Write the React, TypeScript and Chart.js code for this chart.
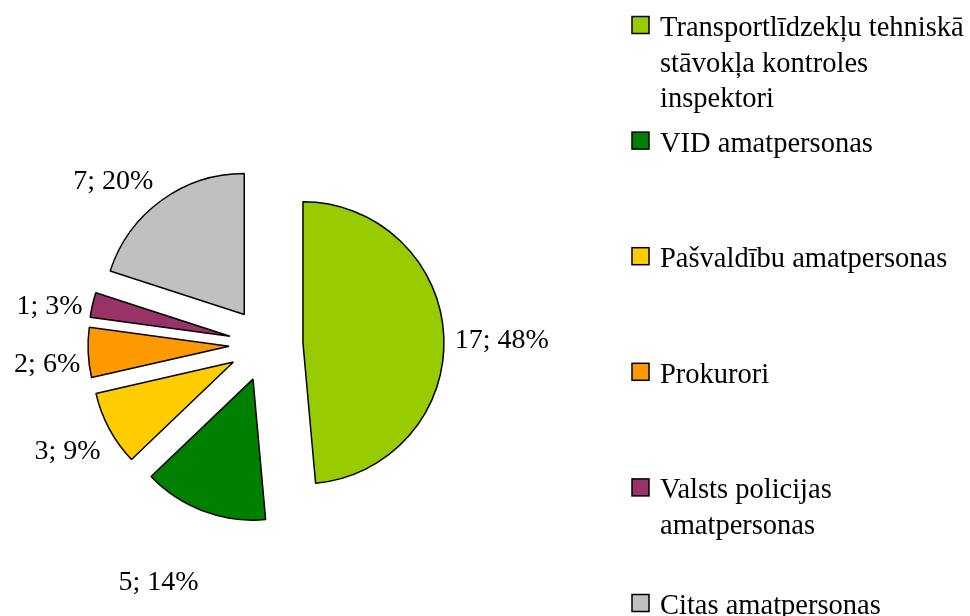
import React, { useEffect, useRef } from "react";
import { Chart, registerables } from "chart.js";

Chart.register(...registerables);

// ---- data ----
const CATEGORIES: string[][] = [
  ["Transportlīdzekļu tehniskā", "stāvokļa kontroles", "inspektori"],
  ["VID amatpersonas"],
  ["Pašvaldību amatpersonas"],
  ["Prokurori"],
  ["Valsts policijas", "amatpersonas"],
  ["Citas amatpersonas"],
];
const VALUES: number[] = [17, 5, 3, 2, 1, 7];
const PERCENTS: number[] = [48, 14, 9, 6, 3, 20];

// ---- style ----
const COLORS = ["#99CC00", "#008000", "#FFCC00", "#FF9900", "#993366", "#C0C0C0"];
const FONT_FAMILY = '"Liberation Serif", "Times New Roman", serif';
const LABEL_FONT = `28px ${FONT_FAMILY}`;
const LEGEND_FONT = `28.5px ${FONT_FAMILY}`;
const EXPLODE = 37;
const RADIUS = 141;
const LABEL_GAP = [10, 62, 20, 9, 12, 30];
const LABEL_NUDGE_X = [1, -9, 5, 1, 1, -7];
const LABEL_NUDGE_Y = [5, 2, 8, 11, 7, 15];
const LEGEND_SQUARE_X = 632;
const LEGEND_SQUARE = 17;
const LEGEND_TEXT_X = 660;
const LEGEND_FIRST_Y = 25;
const LEGEND_STEP = 115.6;
const LEGEND_LINE_H = 35.5;
const LEGEND_BASELINE_SHIFT = 11;

const piePlugin = {
  id: "explodedPie",
  beforeDatasetsDraw(chart: any) {
    const meta = chart.getDatasetMeta(0);
    const a = chart.chartArea;
    const cx = (a.left + a.right) / 2;
    const cy = (a.top + a.bottom) / 2;
    meta.data.forEach((arc: any) => {
      const mid = (arc.startAngle + arc.endAngle) / 2;
      arc.x = cx + Math.cos(mid) * EXPLODE;
      arc.y = cy + Math.sin(mid) * EXPLODE;
    });
  },
  afterDatasetsDraw(chart: any) {
    const ctx: CanvasRenderingContext2D = chart.ctx;
    const meta = chart.getDatasetMeta(0);
    ctx.save();
    // data labels
    ctx.font = LABEL_FONT;
    ctx.fillStyle = "#000";
    ctx.textAlign = "center";
    ctx.textBaseline = "middle";
    meta.data.forEach((arc: any, i: number) => {
      const mid = (arc.startAngle + arc.endAngle) / 2;
      const dx = Math.cos(mid);
      const dy = Math.sin(mid);
      const text = `${VALUES[i]}; ${PERCENTS[i]}%`;
      const hw = ctx.measureText(text).width / 2;
      const hh = 12;
      const r = arc.outerRadius + LABEL_GAP[i];
      const x = arc.x + dx * r + dx * hw + LABEL_NUDGE_X[i];
      const y = arc.y + dy * r + dy * hh + LABEL_NUDGE_Y[i];
      ctx.fillText(text, x, y);
    });
    // legend
    ctx.font = LEGEND_FONT;
    ctx.textAlign = "left";
    ctx.textBaseline = "alphabetic";
    CATEGORIES.forEach((lines, i) => {
      const cy = LEGEND_FIRST_Y + i * LEGEND_STEP;
      ctx.fillStyle = COLORS[i];
      ctx.fillRect(LEGEND_SQUARE_X, cy - LEGEND_SQUARE / 2, LEGEND_SQUARE, LEGEND_SQUARE);
      ctx.strokeStyle = "#000";
      ctx.lineWidth = 1.5;
      ctx.strokeRect(LEGEND_SQUARE_X, cy - LEGEND_SQUARE / 2, LEGEND_SQUARE, LEGEND_SQUARE);
      ctx.fillStyle = "#000";
      lines.forEach((line, j) => {
        ctx.fillText(line, LEGEND_TEXT_X, cy + LEGEND_BASELINE_SHIFT + j * LEGEND_LINE_H);
      });
    });
    ctx.restore();
  },
};

export default function App() {
  const ref = useRef<HTMLCanvasElement | null>(null);
  useEffect(() => {
    if (!ref.current) return;
    const chart = new Chart(ref.current, {
      type: "pie",
      data: {
        labels: CATEGORIES.map((l) => l.join(" ")),
        datasets: [
          {
            data: VALUES,
            backgroundColor: COLORS,
            borderColor: "#000",
            borderWidth: 1.5,
          },
        ],
      },
      options: {
        responsive: false,
        animation: false,
        radius: RADIUS,
        layout: { padding: { left: 0, right: 438, top: 73, bottom: 0 } },
        plugins: {
          legend: { display: false },
          tooltip: { enabled: false },
        },
        events: [],
      } as any,
      plugins: [piePlugin],
    });
    return () => chart.destroy();
  }, []);
  return (
    <div style={{ position: "absolute", left: 0, top: 0, width: 970, height: 616, background: "#fff" }}>
      <canvas ref={ref} width={970} height={616} style={{ display: "block" }} />
    </div>
  );
}
